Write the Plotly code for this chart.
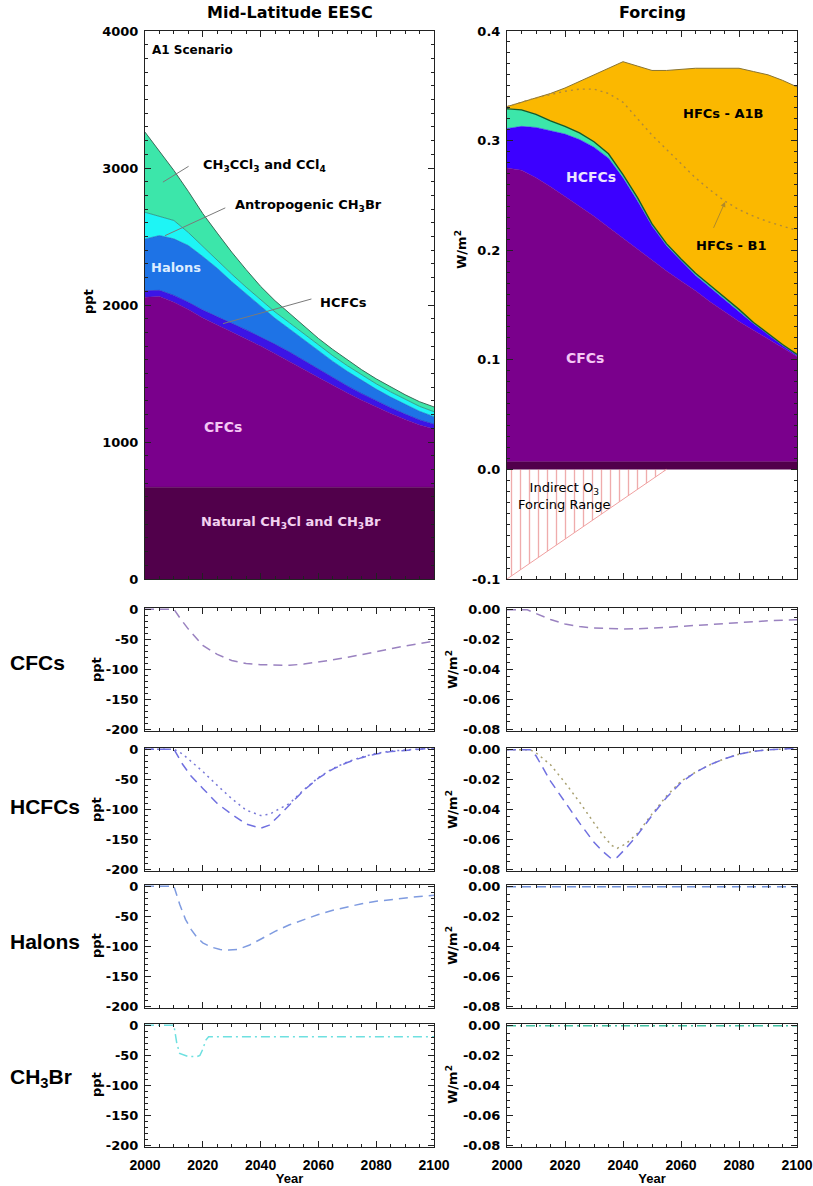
import plotly.graph_objects as go

# ---------------- DATA ----------------
years = [2000, 2005, 2010, 2015, 2020, 2025, 2030, 2035, 2040, 2045, 2050,
         2055, 2060, 2065, 2070, 2075, 2080, 2085, 2090, 2095, 2100]

# Mid-latitude EESC contributions (ppt), stacked bottom -> top
eesc_natural = [670] * 21
eesc_cfcs = [1386, 1392, 1350, 1298, 1235, 1185, 1130, 1080, 1030, 975, 920,
             860, 800, 742, 687, 635, 585, 538, 495, 454, 425]
eesc_hcfcs = [48, 45, 50, 52, 58, 62, 66, 68, 68, 68, 67, 64, 60, 56, 52, 48,
              45, 42, 39, 37, 35]
eesc_halons = [378, 400, 413, 414, 391, 351, 305, 262, 220, 190, 168, 150,
               133, 120, 107, 96, 86, 78, 70, 63, 55]
eesc_ch3br = [195, 142, 134, 95, 73, 62, 55, 50, 48, 46, 45, 44, 43, 42, 41,
              40, 39, 38, 37, 36, 36]
eesc_ch3ccl3_ccl4 = [585, 470, 365, 300, 240, 195, 160, 128, 100, 82, 68, 58,
                     50, 45, 41, 38, 36, 35, 34, 34, 35]

# Radiative forcing contributions (W/m2), stacked bottom -> top
rf_natural = [0.007] * 21
rf_cfcs = [0.268, 0.266, 0.259, 0.251, 0.242, 0.233, 0.224, 0.214, 0.204,
           0.194, 0.184, 0.174, 0.165, 0.156, 0.146, 0.137, 0.128, 0.120,
           0.112, 0.104, 0.096]
rf_hcfcs = [0.036, 0.040, 0.046, 0.051, 0.057, 0.061, 0.063, 0.063, 0.055,
            0.044, 0.031, 0.023, 0.018, 0.014, 0.013, 0.011, 0.009, 0.006,
            0.004, 0.002, 0.001]
rf_ch3ccl3_ccl4 = [0.018, 0.015, 0.012, 0.009, 0.007, 0.006, 0.005, 0.004,
                   0.003, 0.003, 0.002, 0.002, 0.002, 0.002, 0.002, 0.002,
                   0.002, 0.001, 0.001, 0.001, 0.001]
rf_hfcs_a1b = [0.002, 0.007, 0.015, 0.025, 0.035, 0.047, 0.061, 0.078, 0.103,
               0.120, 0.140, 0.158, 0.173, 0.187, 0.198, 0.209, 0.220, 0.229,
               0.236, 0.241, 0.244]
# total forcing with B1 HFCs (dotted line)
rf_total_b1 = [0.331, 0.335, 0.339, 0.342, 0.345, 0.347, 0.347, 0.343, 0.335,
               0.320, 0.305, 0.292, 0.279, 0.266, 0.255, 0.245, 0.237, 0.231,
               0.226, 0.222, 0.218]

# Indirect O3 forcing range
o3_years = [2000, 2055]
o3_upper = [0.0, 0.0]
o3_lower = [-0.1, 0.0]

# Lower panels: differences (cases) -- EESC (ppt)
cfc_ppt_years = [2000, 2010, 2012, 2015, 2020, 2025, 2030, 2035, 2040, 2045,
                 2050, 2055, 2060, 2065, 2070, 2075, 2080, 2085, 2090, 2095, 2100]
cfc_ppt = [0, 0, -14, -33, -60, -75, -85, -90, -92, -93, -93, -91, -88, -84,
           -80, -75, -70, -65, -61, -57, -53]

hcfc_ppt_years = [2000, 2010, 2013, 2016, 2020, 2025, 2030, 2035, 2040, 2043,
                  2046, 2050, 2055, 2060, 2065, 2070, 2075, 2080, 2085, 2090,
                  2095, 2100]
hcfc_ppt_dash = [0, 0, -25, -45, -65, -90, -108, -124, -131, -126, -112, -93,
                 -68, -48, -33, -22, -14, -8, -4, -2, 0, 2]
hcfc_ppt_dot = [0, 0, -8, -20, -37, -60, -82, -101, -110, -108, -100, -90,
                -67, -47, -32, -21, -13, -7, -3, -1, 0, 2]

halon_ppt_years = [2000, 2010, 2012, 2014, 2016, 2018, 2020, 2023, 2026, 2029,
                   2032, 2036, 2040, 2045, 2050, 2055, 2060, 2065, 2070, 2075,
                   2080, 2085, 2090, 2095, 2100]
halon_ppt = [0, 0, -30, -55, -72, -85, -94, -101, -105, -106, -105, -98, -88,
             -75, -64, -55, -47, -40, -34, -29, -25, -22, -19, -17, -15]

ch3br_ppt_years = [2000, 2010, 2011, 2012, 2015, 2018, 2019, 2020, 2021, 2022,
                   2030, 2040, 2050, 2060, 2070, 2080, 2090, 2100]
ch3br_ppt = [0, 0, -30, -47, -52, -52, -50, -40, -25, -19, -19, -19, -19, -19,
             -19, -19, -19, -19]

# Lower panels: forcing differences (W/m2)
cfc_rf_years = [2000, 2007, 2010, 2015, 2020, 2025, 2030, 2035, 2040, 2045,
                2050, 2055, 2060, 2065, 2070, 2075, 2080, 2085, 2090, 2095, 2100]
cfc_rf = [0, 0, -0.0025, -0.0065, -0.0095, -0.0112, -0.0122, -0.0127, -0.0128,
          -0.0127, -0.0124, -0.0118, -0.0111, -0.0104, -0.0097, -0.009,
          -0.0084, -0.0079, -0.0074, -0.007, -0.0066]

hcfc_rf_years = [2000, 2008, 2010, 2015, 2020, 2025, 2030, 2033, 2036, 2038,
                 2041, 2045, 2050, 2055, 2060, 2065, 2070, 2075, 2080, 2085,
                 2090, 2095, 2100]
hcfc_rf_dash = [0, 0, -0.004, -0.021, -0.035, -0.049, -0.062, -0.068, -0.073,
                -0.072, -0.066, -0.057, -0.044, -0.032, -0.022, -0.015, -0.010,
                -0.006, -0.003, -0.001, 0, 0.0005, 0.001]
hcfc_rf_dot = [0, 0, -0.002, -0.010, -0.022, -0.035, -0.049, -0.057, -0.064,
               -0.066, -0.063, -0.056, -0.043, -0.031, -0.021, -0.015, -0.010,
               -0.006, -0.003, -0.001, 0, 0.0005, 0.001]

flat_years = [2000, 2020, 2040, 2060, 2080, 2100]
halon_rf = [0, 0, 0, 0, 0, 0]
ch3br_rf = [0, 0, 0, 0, 0, 0]

# Tick labels
eesc_ticks = [0, 1000, 2000, 3000, 4000]
eesc_ticktext = ['0', '1000', '2000', '3000', '4000']
rf_ticks = [-0.1, 0.0, 0.1, 0.2, 0.3, 0.4]
rf_ticktext = ['-0.1', '0.0', '0.1', '0.2', '0.3', '0.4']
dppt_ticks = [0, -50, -100, -150, -200]
dppt_ticktext = ['0', '-50', '-100', '-150', '-200']
drf_ticks = [0, -0.02, -0.04, -0.06, -0.08]
drf_ticktext = ['0.00', '-0.02', '-0.04', '-0.06', '-0.08']
year_ticks = [2000, 2020, 2040, 2060, 2080, 2100]
year_ticktext = ['2000', '2020', '2040', '2060', '2080', '2100']

# ---------------- FIGURE ----------------
W, H = 813, 1186
FONT = 'DejaVu Sans'
ARIAL = 'Liberation Sans'

fig = go.Figure()


def stack(x, y, group, color, line_color, lw, xa, ya, name):
    fig.add_trace(go.Scatter(
        x=x, y=y, stackgroup=group, mode='lines', name=name,
        line=dict(color=line_color, width=lw), fillcolor=color,
        xaxis=xa, yaxis=ya, hoverinfo='skip'))


# EESC stack
stack(years, eesc_natural, 'e', '#51004b', '#51004b', 0.5, 'x', 'y', 'Natural')
stack(years, eesc_cfcs, 'e', '#7a008c', '#6e0080', 0.5, 'x', 'y', 'CFCs')
stack(years, eesc_hcfcs, 'e', '#3c14e6', '#3010c0', 0.6, 'x', 'y', 'HCFCs')
stack(years, eesc_halons, 'e', '#1e73e6', '#1a5fc0', 0.6, 'x', 'y', 'Halons')
stack(years, eesc_ch3br, 'e', '#1ef5f5', '#2a8a80', 0.8, 'x', 'y', 'CH3Br')
stack(years, eesc_ch3ccl3_ccl4, 'e', '#3ce6aa', '#3a6a58', 1.0, 'x', 'y',
      'CH3CCl3 and CCl4')

# Forcing stack
stack(years, rf_natural, 'f', '#51004b', '#51004b', 0.5, 'x2', 'y2', 'Natural')
stack(years, rf_cfcs, 'f', '#7a008c', '#7a008c', 0.5, 'x2', 'y2', 'CFCs')
stack(years, rf_hcfcs, 'f', '#3c00ff', '#3c00ff', 0.5, 'x2', 'y2', 'HCFCs')
stack(years, rf_ch3ccl3_ccl4, 'f', '#3ce6aa', '#145a2a', 1.4, 'x2', 'y2',
      'CH3CCl3 and CCl4')
stack(years, rf_hfcs_a1b, 'f', '#fbb800', '#8a7430', 1.0, 'x2', 'y2',
      'HFCs - A1B')

fig.add_trace(go.Scatter(x=years, y=rf_total_b1, mode='lines', xaxis='x2',
                         yaxis='y2', line=dict(color='#b08a3a', width=1.4,
                                               dash='2px,4px'),
                         hoverinfo='skip', name='HFCs - B1'))

# Indirect O3 range (hatched)
fig.add_trace(go.Scatter(x=o3_years, y=o3_upper, mode='lines', xaxis='x2',
                         yaxis='y2', line=dict(width=0, color='#e05a5a'),
                         hoverinfo='skip', name='o3 top'))
fig.add_trace(go.Scatter(x=o3_years, y=o3_lower, mode='lines', xaxis='x2',
                         yaxis='y2', fill='tonexty',
                         fillcolor='rgba(0,0,0,0)',
                         fillpattern=dict(shape='|', fgcolor='#e05a5a',
                                          bgcolor='rgba(255,255,255,0)',
                                          size=9, solidity=0.15),
                         line=dict(color='#f0a0a0', width=1),
                         hoverinfo='skip', name='Indirect O3'))


def line(x, y, xa, ya, color, dash, name, width=1.5):
    fig.add_trace(go.Scatter(x=x, y=y, mode='lines', xaxis=xa, yaxis=ya,
                             line=dict(color=color, width=width, dash=dash),
                             hoverinfo='skip', name=name))


DASH = '9px,6px'
DOT = '2px,4px'
DASHDOT = '9px,4px,2px,4px'

line(cfc_ppt_years, cfc_ppt, 'x3', 'y3', '#9a82c0', DASH, 'CFCs')
line(hcfc_ppt_years, hcfc_ppt_dot, 'x4', 'y4', '#7a7ad8', DOT, 'HCFCs dot')
line(hcfc_ppt_years, hcfc_ppt_dash, 'x4', 'y4', '#7070e0', DASH, 'HCFCs')
line(halon_ppt_years, halon_ppt, 'x5', 'y5', '#7f9be0', DASH, 'Halons')
line(ch3br_ppt_years, ch3br_ppt, 'x6', 'y6', '#6ee0e0', DASHDOT, 'CH3Br')

line(cfc_rf_years, cfc_rf, 'x7', 'y7', '#9a82c0', DASH, 'CFCs')
line(hcfc_rf_years, hcfc_rf_dot, 'x8', 'y8', '#a8a070', DOT, 'HCFCs dot')
line(hcfc_rf_years, hcfc_rf_dash, 'x8', 'y8', '#7070e0', DASH, 'HCFCs')
line(flat_years, halon_rf, 'x9', 'y9', '#6f8fd8', DASH, 'Halons')
line(flat_years, ch3br_rf, 'x10', 'y10', '#40c0a0', DASHDOT, 'CH3Br')


# ---------------- AXES ----------------
def dom_x(a, b):
    return [a / W, b / W]


def dom_y(top, bottom):
    return [1 - bottom / H, 1 - top / H]


LEFT = dom_x(145, 434)
RIGHT = dom_x(507, 797)
ROWS = [dom_y(608, 731), dom_y(748, 871), dom_y(885, 1008), dom_y(1024, 1147)]
TOP = dom_y(31, 579)

tickfont = dict(family=FONT, size=13, color='black', weight='bold')


def xaxis(domain, anchor, labels):
    ax = dict(domain=domain, anchor=anchor, range=[2000, 2100],
              showgrid=False, zeroline=False, showline=True,
              linecolor='#222', linewidth=1, mirror='allticks',
              ticks='inside', ticklen=6, tickwidth=1, tickcolor='#222',
              tickvals=year_ticks, ticktext=year_ticktext,
              minor=dict(dtick=5, tick0=2000, ticklen=3, ticks='inside',
                         tickcolor='#222', showgrid=False),
              showticklabels=labels,
              tickfont=dict(family=ARIAL, size=14, color='black',
                            weight='bold'),
              ticklabelstandoff=5, ticklabeloverflow='allow',
              fixedrange=True, automargin=False)
    if labels:
        ax['title'] = dict(text='Year', standoff=4,
                           font=dict(family=ARIAL, size=13, color='black',
                                     weight='bold'))
    return ax


def yaxis(domain, anchor, rng, tv, tt, minor_dtick):
    return dict(domain=domain, anchor=anchor, range=rng, showgrid=False,
                zeroline=False, showline=True, linecolor='#222', linewidth=1,
                mirror='allticks', ticks='inside', ticklen=6, tickwidth=1,
                tickcolor='#222', tickvals=tv, ticktext=tt,
                minor=dict(dtick=minor_dtick, tick0=0, ticklen=3,
                           ticks='inside', tickcolor='#222', showgrid=False),
                tickfont=tickfont, ticklabelstandoff=3, fixedrange=True,
                automargin=False)


layout = dict(
    width=W, height=H, margin=dict(l=0, r=0, t=0, b=0),
    paper_bgcolor='white', plot_bgcolor='white', showlegend=False,
    font=dict(family=FONT, color='black'),
)
layout['xaxis'] = xaxis(LEFT, 'y', False)
layout['yaxis'] = yaxis(TOP, 'x', [0, 4000], eesc_ticks, eesc_ticktext, 100)
layout['xaxis2'] = xaxis(RIGHT, 'y2', False)
layout['yaxis2'] = yaxis(TOP, 'x2', [-0.1, 0.4], rf_ticks, rf_ticktext, 0.01)
for i in range(4):
    xl, yl = i + 3, i + 3
    xr, yr = i + 7, i + 7
    last = (i == 3)
    layout['xaxis%d' % xl] = xaxis(LEFT, 'y%d' % yl, last)
    layout['yaxis%d' % yl] = yaxis(ROWS[i], 'x%d' % xl, [-202, 2],
                                   dppt_ticks, dppt_ticktext, 10)
    layout['xaxis%d' % xr] = xaxis(RIGHT, 'y%d' % yr, last)
    layout['yaxis%d' % yr] = yaxis(ROWS[i], 'x%d' % xr, [-0.0812, 0.0012],
                                   drf_ticks, drf_ticktext, 0.005)

fig.update_layout(**layout)

# ---------------- TEXT ----------------
ann = []


def ptext(x, y, text, size, xanchor='center', angle=0, weight='bold',
          color='black', family=FONT, yanchor='middle'):
    ann.append(dict(xref='paper', yref='paper', x=x / W, y=1 - y / H,
                    text=text, showarrow=False, xanchor=xanchor,
                    yanchor=yanchor, textangle=angle,
                    font=dict(family=family, size=size, color=color,
                              weight=weight)))


def dtext(xa, ya, x, y, text, size=13, xanchor='center', color='black',
          weight='bold', yanchor='middle'):
    ann.append(dict(xref=xa, yref=ya, x=x, y=y, text=text, showarrow=False,
                    xanchor=xanchor, yanchor=yanchor,
                    font=dict(family=FONT, size=size, color=color,
                              weight=weight)))


def pointer(xa, ya, x0, y0, x1, y1, color='#7a7a7a', head=0):
    ann.append(dict(xref=xa, yref=ya, axref=xa, ayref=ya, x=x1, y=y1,
                    ax=x0, ay=y0, text='', showarrow=True, arrowhead=head,
                    arrowsize=1, arrowwidth=1, arrowcolor=color, standoff=0,
                    startstandoff=0))


# titles
ptext(290, 12, 'Mid-Latitude EESC', 16)
ptext(652, 12, 'Forcing', 16)

# axis titles
ptext(89, 302, 'ppt', 13, angle=-90)
ptext(461, 250, 'W/m<sup>2</sup>', 13, angle=-90)
row_centers = [670, 810, 946, 1085]
for yc in row_centers:
    ptext(96, yc, 'ppt', 13, angle=-90)
    ptext(452, yc, 'W/m<sup>2</sup>', 13, angle=-90)

# row labels
ptext(8, 662, 'CFCs', 21, xanchor='left', family=ARIAL)
ptext(8, 806, 'HCFCs', 21, xanchor='left', family=ARIAL)
ptext(8, 942, 'Halons', 21, xanchor='left', family=ARIAL)
ptext(8, 1078, 'CH<sub>3</sub>Br', 21, xanchor='left', family=ARIAL)

# EESC panel labels
dtext('x', 'y', 2001.7, 3860, 'A1 Scenario', 12, xanchor='left')
dtext('x', 'y', 2019.5, 3019, 'CH<sub>3</sub>CCl<sub>3</sub> and CCl<sub>4</sub>',
      13, xanchor='left')
dtext('x', 'y', 2030.3, 2727, 'Antropogenic CH<sub>3</sub>Br', 13,
      xanchor='left')
dtext('x', 'y', 2010.7, 2273, 'Halons', 13, color='#dcecff')
dtext('x', 'y', 2059.8, 2020, 'HCFCs', 13, xanchor='left')
dtext('x', 'y', 2027, 1111, 'CFCs', 14, color='#f4c6f4')
dtext('x', 'y', 2050.5, 409, 'Natural CH<sub>3</sub>Cl and CH<sub>3</sub>Br',
      13, color='#f2d2f0')
pointer('x', 'y', 2015.6, 3019, 2006.2, 2897)
pointer('x', 'y', 2028.3, 2714, 2006.9, 2506)
pointer('x', 'y', 2058.1, 2047, 2027.0, 1864)

# Forcing panel labels
dtext('x2', 'y2', 2074.5, 0.325, 'HFCs - A1B', 13)
dtext('x2', 'y2', 2029.0, 0.267, 'HCFCs', 14, color='#ece4ff')
dtext('x2', 'y2', 2077.2, 0.204, 'HFCs - B1', 13)
dtext('x2', 'y2', 2026.9, 0.102, 'CFCs', 14, color='#f4c6f4')
dtext('x2', 'y2', 2019.7, -0.0245, 'Indirect O<sub>3</sub><br>Forcing Range',
      13, weight='normal')
pointer('x2', 'y2', 2071.0, 0.219, 2075.2, 0.244, color='#b08a2a', head=2)

fig.update_layout(annotations=ann)

fig.write_html('out.html')
